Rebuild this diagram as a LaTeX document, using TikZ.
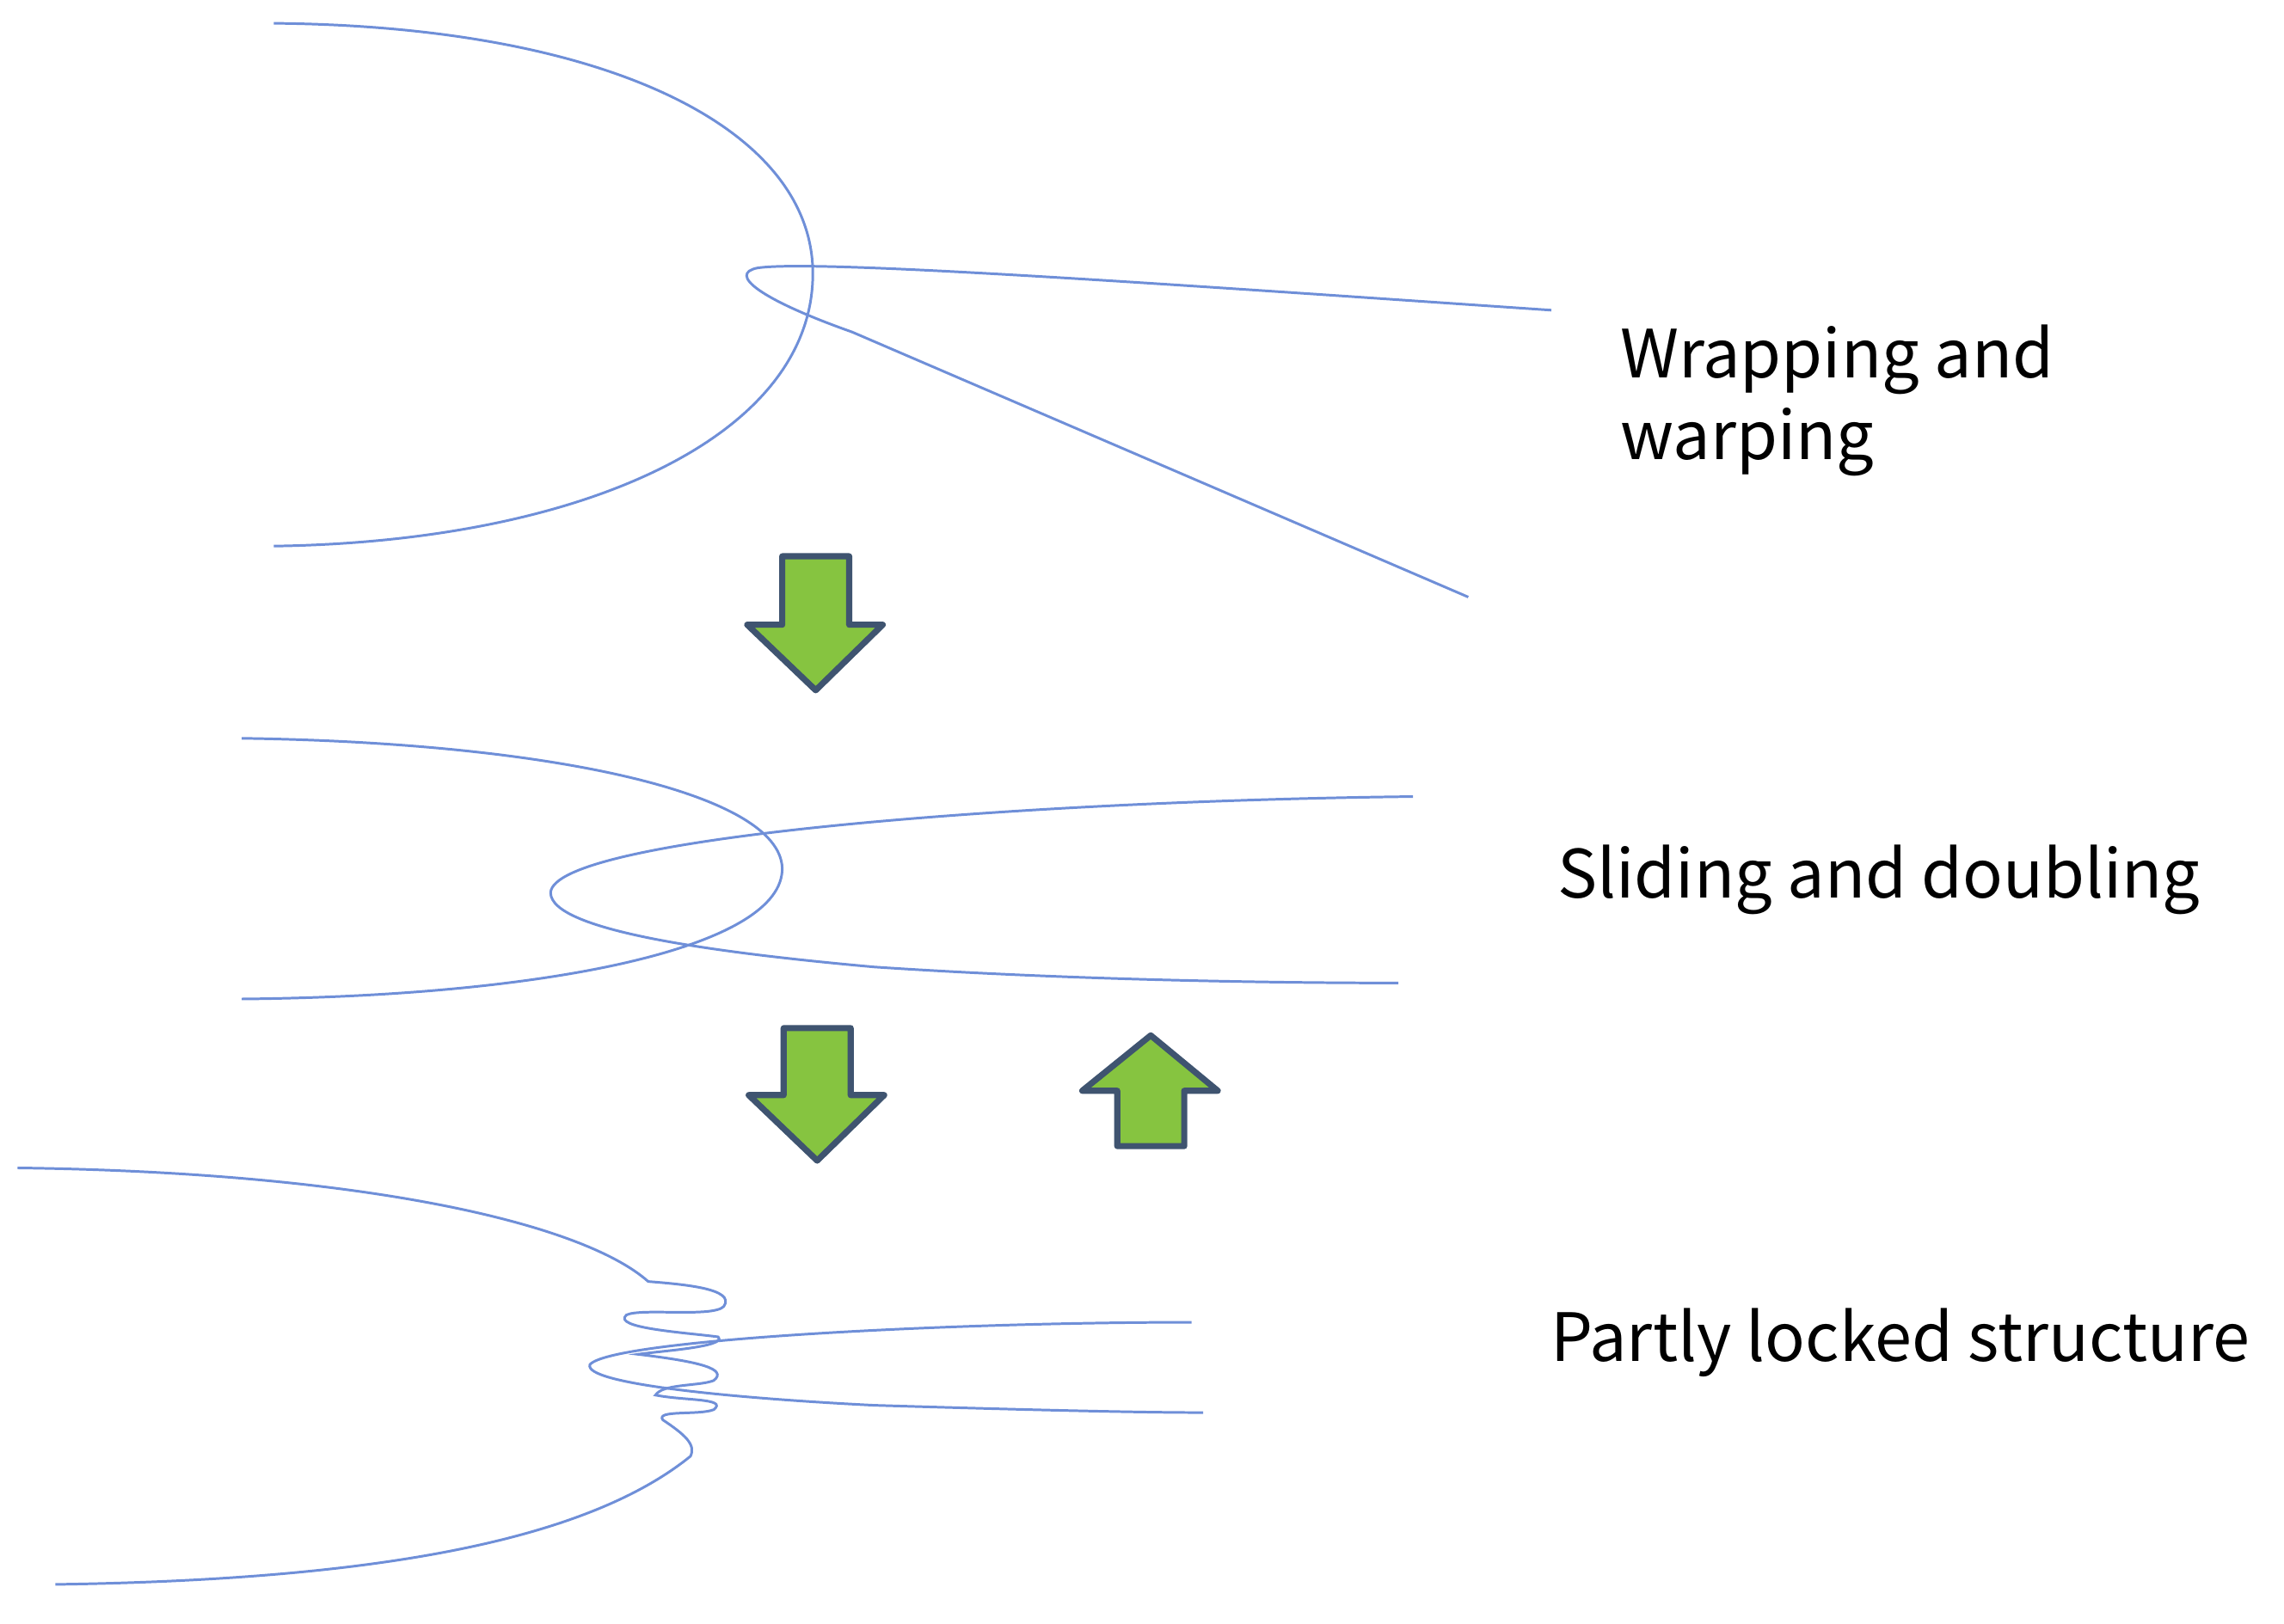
\documentclass[tikz,border=0pt]{standalone}
\usepackage{fontspec}
\setmainfont{Noto Sans CJK JP}
\definecolor{strand}{HTML}{6F8FD8}
\definecolor{arrowfill}{HTML}{86C440}
\definecolor{arrowline}{HTML}{3F5470}
\begin{document}
\begin{tikzpicture}[x=0.01cm,y=-0.01cm,
  strand/.style={draw=strand, line width=0.5pt},
  block/.style={fill=arrowfill, draw=arrowline, line width=1.2pt, line join=round},
  label/.style={anchor=west, align=left, font=\fontsize{13}{16}\selectfont}]
  \useasboundingbox (0,0) rectangle (1568,1115);

  % wrapping and warping
  \draw[strand] (188,16) .. controls (420,18) and (560,90) .. (558,190)
    .. controls (556,300) and (400,372) .. (188,375);
  \draw[strand] (1065,213) .. controls (800,195) and (560,178) .. (520,184)
    .. controls (500,188) and (520,205) .. (585,228) -- (1008,410);
  \node[label] (wrap) at (1100,275) {Wrapping and\\warping};

  % sliding and doubling
  \draw[strand] (166,507) .. controls (380,510) and (535,545) .. (537,596)
    .. controls (538,650) and (380,684) .. (166,686);
  \draw[strand] (970,547) .. controls (700,550) and (380,575) .. (378,613)
    .. controls (378,640) and (500,655) .. (600,664) .. controls (750,674) and (900,675) .. (960,675);
  \node[label] (slide) at (1057,604) {Sliding and doubling};

  % partly locked structure
  \draw[strand] (12,802) .. controls (250,805) and (400,840) .. (445,880)
    .. controls (470,882) and (505,885) .. (497,897) .. controls (490,905) and (440,898) .. (430,903)
    .. controls (420,912) and (470,915) .. (493,918) .. controls (500,925) and (450,928) .. (438,930)
    .. controls (480,935) and (500,940) .. (490,948) .. controls (480,952) and (455,950) .. (450,958)
    .. controls (470,962) and (500,960) .. (490,968) .. controls (480,972) and (450,968) .. (455,975)
    .. controls (470,985) and (478,992) .. (474,1000)
    .. controls (400,1060) and (250,1085) .. (38,1088);
  \draw[strand] (818,908) .. controls (650,908) and (420,920) .. (405,937)
    .. controls (400,950) and (500,960) .. (600,965) .. controls (700,968) and (780,970) .. (826,970);
  \node[label] (lock) at (1052,922) {Partly locked structure};

  % transition arrows
  \draw[block] (537,382) -- (583,382) -- (583,429) -- (606,429) -- (560,474)
    -- (513,429) -- (537,429) -- cycle;
  \draw[block] (538,706) -- (584,706) -- (584,752) -- (607,752) -- (561,797)
    -- (514,752) -- (538,752) -- cycle;
  \draw[block] (767,787) -- (813,787) -- (813,749) -- (836,749) -- (790,711)
    -- (743,749) -- (767,749) -- cycle;
\end{tikzpicture}
\end{document}
